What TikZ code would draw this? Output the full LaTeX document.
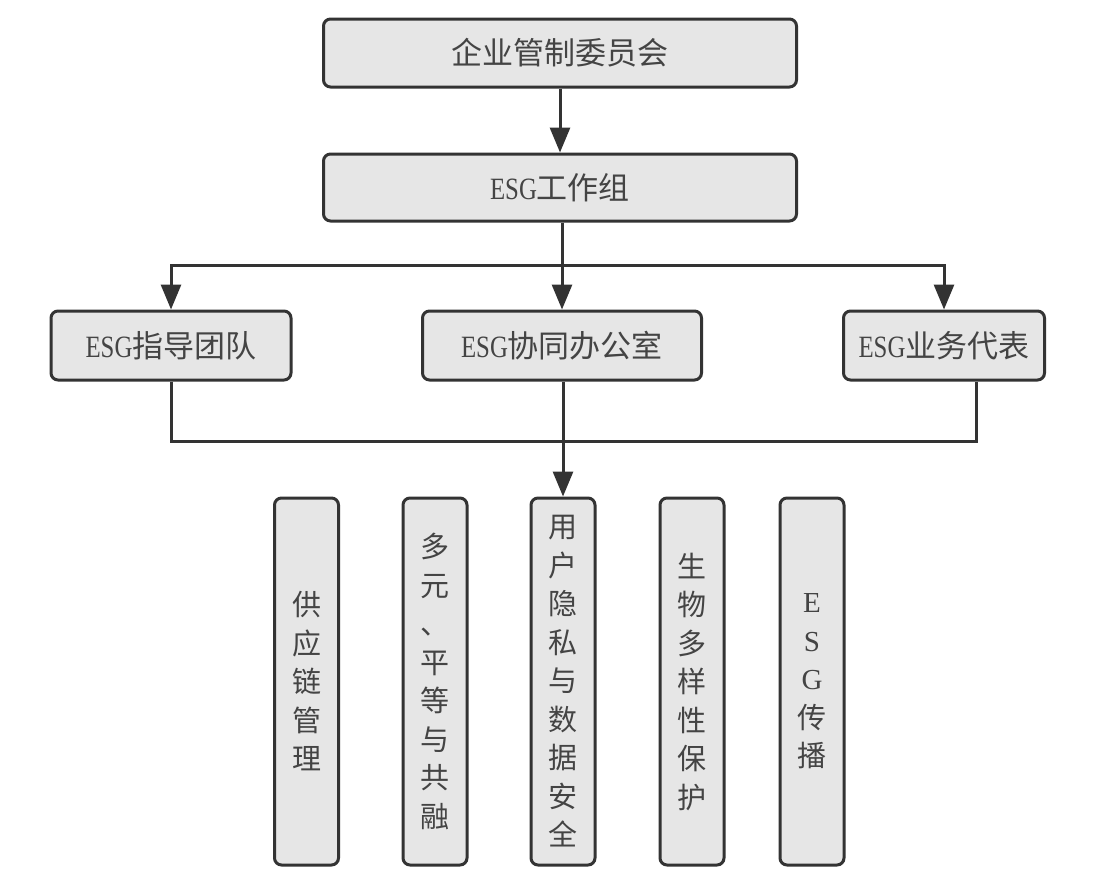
\documentclass[tikz,border=0pt]{standalone}
\usepackage{fontspec}
\usepackage{graphicx}
\newfontfamily\cjk{Noto Sans CJK SC}
\newfontfamily\latinserif{Liberation Serif}
\usetikzlibrary{arrows.meta}
\definecolor{linec}{HTML}{333333}
\definecolor{boxfill}{HTML}{E6E6E6}
\definecolor{textc}{HTML}{444444}
\newcommand{\esgtxt}{{\latinserif\scalebox{0.8}[1]{ESG}}}
\tikzset{
  box/.style={draw=linec, line width=3pt, fill=boxfill, rounded corners=7pt,
    inner sep=0pt, text=textc, font=\cjk\fontsize{31}{36}\selectfont},
  vbox/.style={box, minimum width=64pt, minimum height=367pt, align=center,
    font=\cjk\fontsize{29}{38.5}\selectfont},
  conn/.style={draw=linec, line width=3pt},
  arr/.style={conn, -{Triangle[length=25pt,width=20pt]}}
}
\begin{document}
\begin{tikzpicture}[x=1pt,y=-1pt]
\useasboundingbox (0,0) rectangle (1094,881);
\fill[white] (0,0) rectangle (1094,881);
% top two
\node[box, minimum width=473pt, minimum height=68pt] (top) at (560,53) {企业管制委员会};
\node[box, minimum width=473pt, minimum height=67pt] (wg) at (560,187.5) {\esgtxt 工作组};
% middle row
\node[box, minimum width=240pt, minimum height=69pt] (lead) at (171,345.5) {\esgtxt 指导团队};
\node[box, minimum width=279pt, minimum height=69pt] (office) at (562,345.5) {\esgtxt 协同办公室};
\node[box, minimum width=201pt, minimum height=69pt] (rep) at (944,345.5) {\esgtxt 业务代表};
% bottom row
\node[vbox] (supply) at (306.5,681.5) {供\\应\\链\\管\\理};
\node[vbox] (divers) at (435,681.5) {多\\元\\、\\平\\等\\与\\共\\融};
\node[vbox] (privacy) at (563,681.5) {用\\户\\隐\\私\\与\\数\\据\\安\\全};
\node[vbox] (bio) at (692,681.5) {生\\物\\多\\样\\性\\保\\护};
\node[vbox] (comm) at (812,681.5) {{\latinserif E}\\{\latinserif S}\\{\latinserif G}\\传\\播};
% connectors
\draw[arr] (top.south) -- (wg.south |- top.south) -- (wg.north);
\coordinate (j1) at (562,265);
\draw[conn] (wg.south -| j1) -- (j1);
\draw[arr] (wg.south -| office.north) -- (office.north);
\draw[arr] (j1) -| (lead.north);
\draw[arr] (j1) -| (rep.north);
\coordinate (j2) at (562,441);
\coordinate (repout) at ([xshift=32pt]rep.south);
\draw[conn] (lead.south) |- (j2) -| (repout);
\draw[arr] (office.south -| privacy.north) -- (privacy.north);
\end{tikzpicture}
\end{document}
